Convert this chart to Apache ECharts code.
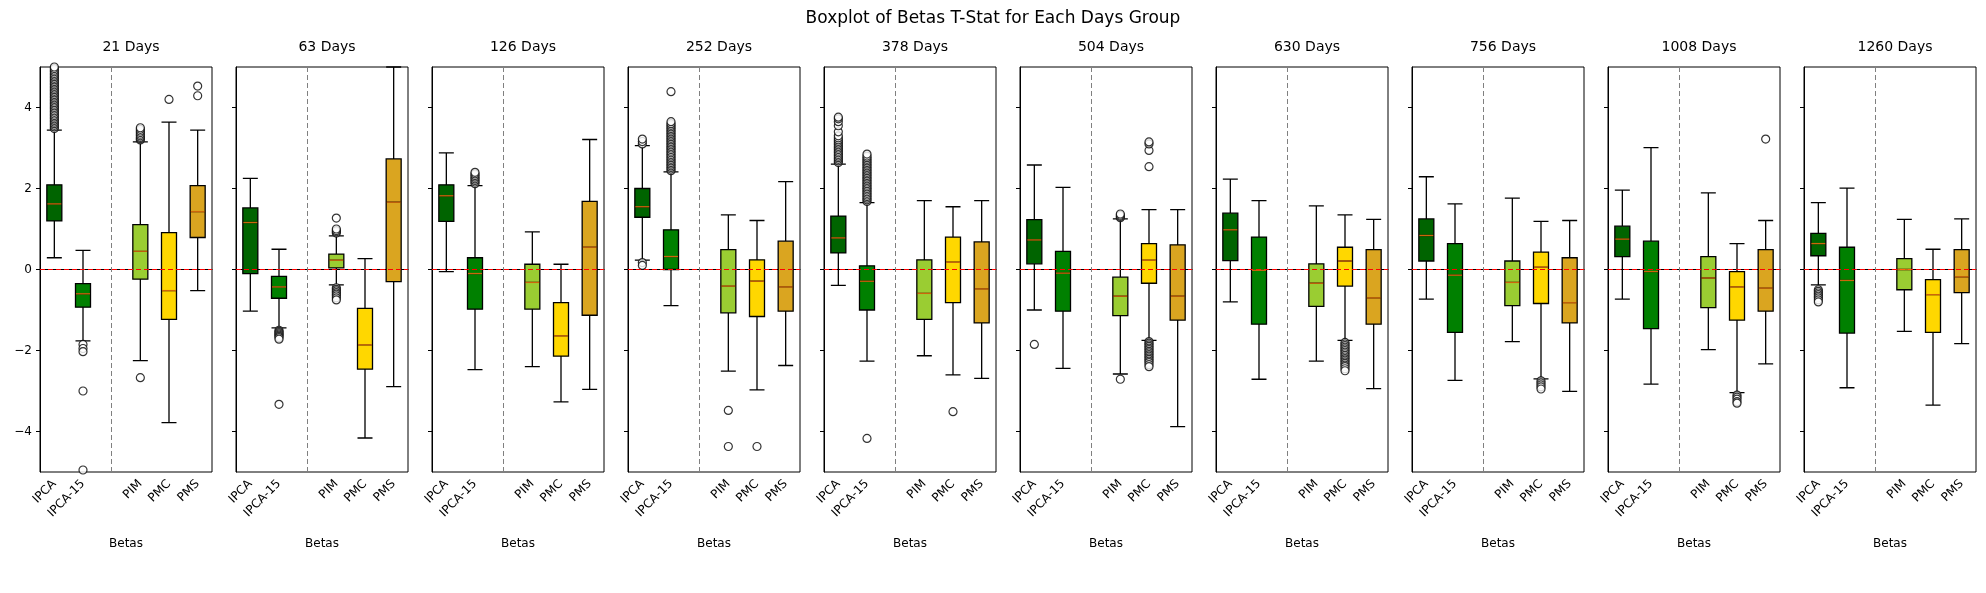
<!DOCTYPE html>
<html>
<head>
<meta charset="utf-8">
<script src="https://cdn.jsdelivr.net/npm/echarts@6/dist/echarts.min.js"></script>
<style>html,body{margin:0;padding:0;background:#fff}#main{width:1986px;height:593px}</style>
</head>
<body>
<div id="main"></div>
<script>
const groups = ['21 Days', '63 Days', '126 Days', '252 Days', '378 Days', '504 Days', '630 Days', '756 Days', '1008 Days', '1260 Days'];
const categories = ['IPCA', 'IPCA-15', '', 'PIM', 'PMC', 'PMS'];
const colors = ['#006400', '#008000', null, '#9acd32', '#ffd700', '#daa520'];

// [low whisker, Q1, median, Q3, high whisker] per group
const ipca = [
  [0.29, 1.2, 1.62, 2.09, 3.44], [-1.03, -0.1, 1.16, 1.52, 2.25], [-0.05, 1.19, 1.82, 2.09, 2.88],
  [0.23, 1.29, 1.55, 2.0, 3.06], [-0.39, 0.41, 0.78, 1.32, 2.6], [-1.0, 0.14, 0.73, 1.23, 2.58],
  [-0.8, 0.22, 0.98, 1.39, 2.23], [-0.73, 0.21, 0.84, 1.25, 2.29], [-0.73, 0.32, 0.75, 1.07, 1.96],
  [-0.38, 0.34, 0.64, 0.89, 1.65]
];
const ipca15 = [
  [-1.76, -0.93, -0.6, -0.35, 0.47], [-1.44, -0.71, -0.43, -0.17, 0.5], [-2.47, -0.98, -0.1, 0.29, 2.07],
  [-0.89, 0, 0.32, 0.98, 2.41], [-2.26, -1.0, -0.29, 0.09, 1.65], [-2.44, -1.03, -0.09, 0.45, 2.03],
  [-2.71, -1.35, -0.02, 0.8, 1.7], [-2.74, -1.55, -0.14, 0.64, 1.62], [-2.83, -1.46, -0.05, 0.7, 3.01],
  [-2.92, -1.57, -0.27, 0.55, 2.01]
];
const pim = [
  [-2.25, -0.24, 0.45, 1.11, 3.15], [-0.38, 0.04, 0.23, 0.38, 0.83], [-2.4, -0.98, -0.32, 0.13, 0.93],
  [-2.51, -1.07, -0.41, 0.49, 1.35], [-2.13, -1.23, -0.59, 0.24, 1.7], [-2.58, -1.14, -0.66, -0.19, 1.25],
  [-2.26, -0.91, -0.34, 0.14, 1.57], [-1.78, -0.89, -0.32, 0.21, 1.76], [-1.98, -0.94, -0.21, 0.32, 1.89],
  [-1.53, -0.5, 0.0, 0.27, 1.24]
];
const pmc = [
  [-3.78, -1.23, -0.52, 0.91, 3.64], [-4.16, -2.46, -1.86, -0.96, 0.27], [-3.27, -2.14, -1.64, -0.82, 0.13],
  [-2.97, -1.16, -0.29, 0.24, 1.21], [-2.6, -0.82, 0.18, 0.8, 1.55], [-1.75, -0.34, 0.23, 0.64, 1.48],
  [-1.75, -0.41, 0.21, 0.55, 1.35], [-2.7, -0.84, 0.06, 0.43, 1.19], [-3.04, -1.25, -0.43, -0.05, 0.64],
  [-3.35, -1.55, -0.62, -0.25, 0.5]
];
const pms = [
  [-0.52, 0.79, 1.43, 2.07, 3.44], [-2.89, -0.3, 1.66, 2.73, 5.0], [-2.96, -1.13, 0.55, 1.68, 3.21],
  [-2.37, -1.03, -0.43, 0.7, 2.17], [-2.69, -1.32, -0.48, 0.68, 1.7], [-3.88, -1.25, -0.66, 0.61, 1.48],
  [-2.94, -1.35, -0.7, 0.49, 1.24], [-3.01, -1.32, -0.82, 0.29, 1.21], [-2.33, -1.03, -0.46, 0.49, 1.21],
  [-1.83, -0.57, -0.18, 0.49, 1.25]
];

// outliers per group
const ipcaOut = [
  [3.48, 3.52, 3.56, 3.6, 3.64, 3.68, 3.72, 3.76, 3.8, 3.84, 3.88, 3.92, 3.96, 4.0, 4.04, 4.08, 4.12, 4.16, 4.2,
   4.24, 4.28, 4.32, 4.36, 4.4, 4.44, 4.48, 4.52, 4.56, 4.6, 4.64, 4.68, 4.72, 4.76, 4.8, 4.84, 4.88, 4.92, 4.96, 5.0],
  [], [],
  [3.1, 3.16, 3.22, 0.17, 0.1],
  [2.64, 2.68, 2.72, 2.76, 2.8, 2.84, 2.88, 2.92, 2.96, 3.0, 3.04, 3.08, 3.12, 3.16, 3.2, 3.25, 3.3, 3.4, 3.55, 3.65, 3.72, 3.76],
  [-1.85], [], [], [],
  [-0.5, -0.54, -0.58, -0.62, -0.66, -0.7, -0.75, -0.8]
];
const ipca15Out = [
  [-1.85, -1.95, -2.03, -3.0, -4.95],
  [-1.5, -1.53, -1.56, -1.59, -1.62, -1.65, -1.68, -1.72, -3.33],
  [2.12, 2.16, 2.2, 2.24, 2.28, 2.32, 2.36, 2.4],
  [2.44, 2.48, 2.52, 2.56, 2.6, 2.64, 2.68, 2.72, 2.76, 2.8, 2.84, 2.88, 2.92, 2.96, 3.0, 3.04, 3.08, 3.12,
   3.16, 3.2, 3.24, 3.28, 3.32, 3.36, 3.4, 3.44, 3.48, 3.52, 3.56, 3.6, 3.65, 4.39],
  [1.68, 1.72, 1.76, 1.8, 1.84, 1.88, 1.92, 1.96, 2.0, 2.04, 2.08, 2.12, 2.16, 2.2, 2.24, 2.28, 2.32, 2.36,
   2.4, 2.44, 2.48, 2.52, 2.56, 2.6, 2.64, 2.68, 2.72, 2.76, 2.8, 2.85, -4.17],
  [], [], [], [], []
];
const pimOut = [
  [3.2, 3.23, 3.26, 3.3, 3.34, 3.38, 3.42, 3.46, 3.5, -2.67],
  [0.9, 0.93, 0.96, 1.0, 1.27, -0.45, -0.49, -0.53, -0.57, -0.61, -0.65, -0.7, -0.75], [],
  [-3.48, -4.37], [], [1.28, 1.31, 1.34, 1.37, -2.71], [], [], [], []
];
const pmcOut = [
  [4.2], [], [], [-4.37], [-3.51],
  [2.54, 2.94, 3.1, 3.15, -1.78, -1.82, -1.86, -1.9, -1.94, -1.98, -2.02, -2.06, -2.1, -2.14, -2.18, -2.22, -2.26, -2.3, -2.35, -2.4],
  [-1.8, -1.84, -1.88, -1.92, -1.96, -2.0, -2.04, -2.08, -2.12, -2.16, -2.2, -2.24, -2.28, -2.32, -2.36, -2.4, -2.45, -2.5],
  [-2.75, -2.8, -2.85, -2.9, -2.95], [-3.1, -3.15, -3.2, -3.26, -3.3], []
];
const pmsOut = [[4.29, 4.53], [], [], [], [], [], [], [], [3.22], []];

const tickVals = [-4, -2, 0, 2, 4];

const chart = echarts.init(document.getElementById('main'));
const boxes = [ipca, ipca15, null, pim, pmc, pms];
const outs = [ipcaOut, ipca15Out, null, pimOut, pmcOut, pmsOut];

let grids = [], xAxes = [], yAxes = [], series = [];
let titles = [{
  text: 'Boxplot of Betas T-Stat for Each Days Group', left: 'center', top: 5,
  textStyle: { fontSize: 17, fontWeight: 'normal', color: '#000', fontFamily: 'DejaVu Sans' }
}];

for (let i = 0; i < groups.length; i++) {
  let left = 40 + 196 * i;
  grids.push({ left: left, width: 172, top: 67, height: 405, show: true, borderColor: '#000', borderWidth: 1 });
  titles.push({
    text: groups[i], left: left + 86, textAlign: 'center', top: 35,
    textStyle: { fontSize: 14, fontWeight: 'normal', color: '#000', fontFamily: 'DejaVu Sans' }
  });
  xAxes.push({
    type: 'category', gridIndex: i, data: categories, boundaryGap: true,
    name: 'Betas', nameLocation: 'middle', nameGap: 66,
    nameTextStyle: { fontSize: 12, color: '#000', fontFamily: 'DejaVu Sans' },
    axisLine: { lineStyle: { color: '#000' } },
    axisTick: { alignWithLabel: true, length: 4, interval: (idx, v) => v !== '', lineStyle: { color: '#000' } },
    axisLabel: { rotate: 45, interval: 0, fontSize: 12, color: '#000', fontFamily: 'DejaVu Sans', margin: 10 },
    splitLine: { show: false }
  });
  yAxes.push({
    type: 'value', gridIndex: i, min: -5, max: 5,
    axisLine: { show: true, lineStyle: { color: '#000' } },
    axisTick: { show: true, length: 4, customValues: tickVals, lineStyle: { color: '#000' } },
    axisLabel: { show: i === 0, customValues: tickVals, fontSize: 12, color: '#000', fontFamily: 'DejaVu Sans',
      formatter: v => (v < 0 ? '\u2212' + (-v) : '' + v) },
    splitLine: { show: false }
  });

  let boxData = [], medData = [], outData = [];
  for (let c = 0; c < categories.length; c++) {
    if (!boxes[c]) { boxData.push('-'); continue; }
    let b = boxes[c][i];
    boxData.push({ value: b, itemStyle: { color: colors[c], borderColor: '#000', borderWidth: 1.3 } });
    medData.push([c, b[2]]);
    outs[c][i].forEach(v => outData.push([c, v]));
  }
  series.push({
    type: 'boxplot', xAxisIndex: i, yAxisIndex: i, data: boxData, boxWidth: [15, 15],
    itemStyle: { borderColor: '#000' }, animation: false,
    markLine: {
      silent: true, symbol: 'none', label: { show: false },
      data: [
        { yAxis: 0, lineStyle: { color: '#ff0000', type: [5, 3], width: 1.2 } },
        { xAxis: 2, lineStyle: { color: '#808080', type: [5, 3], width: 1 } }
      ]
    }
  });
  series.push({
    type: 'scatter', xAxisIndex: i, yAxisIndex: i, data: medData, symbol: 'rect', symbolSize: [14, 1.3],
    itemStyle: { color: '#ff7f0e' }, z: 5, animation: false
  });
  series.push({
    type: 'scatter', xAxisIndex: i, yAxisIndex: i, data: outData, symbol: 'circle', symbolSize: 8,
    itemStyle: { color: '#fff', borderColor: '#000', borderWidth: 1.2 }, z: 4, animation: false, clip: true
  });
}

chart.setOption({
  backgroundColor: '#fff',
  animation: false,
  title: titles,
  grid: grids,
  xAxis: xAxes,
  yAxis: yAxes,
  series: series
});
</script>
</body>
</html>
